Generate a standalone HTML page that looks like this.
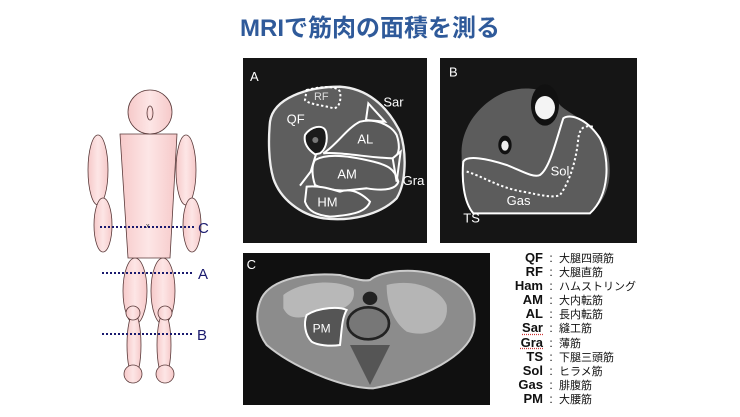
<!DOCTYPE html>
<html><head><meta charset="utf-8"><style>
body{margin:0;width:740px;height:417px;background:#fff;overflow:hidden;position:relative;font-family:"Liberation Sans","Noto Sans CJK JP",sans-serif}
.t{position:absolute;left:0;width:740px;top:8px;text-align:center;font-size:24px;font-weight:bold;color:#2f5a9a}
.lg{position:absolute;left:490px;top:251px;line-height:14.1px;color:#111}
.lg div{white-space:nowrap;height:14.1px}
.lg b{display:inline-block;width:53px;text-align:right;font-size:13px}
.lg i{font-style:normal;display:inline-block;width:16px;text-align:center;font-size:12px}
.lg span.j{font-size:11px;font-family:"Noto Sans CJK JP",sans-serif}
.u{text-decoration:underline dotted #c33}
</style></head><body>
<div class="t">MRIで筋肉の面積を測る</div>
<svg width="740" height="417" style="position:absolute;left:0;top:0">
<defs><linearGradient id="sk" x1="0" x2="1"><stop offset="0" stop-color="#f6c9c9"/><stop offset=".5" stop-color="#fde6e6"/><stop offset="1" stop-color="#f6c9c9"/></linearGradient></defs>
<g fill="url(#sk)" stroke="#5a3a3a" stroke-width="0.8">
<ellipse cx="98" cy="170" rx="10" ry="35"/><ellipse cx="103" cy="225" rx="9" ry="27"/>
<ellipse cx="186" cy="170" rx="10" ry="35"/><ellipse cx="192" cy="225" rx="9" ry="27"/>
<ellipse cx="135" cy="291" rx="12" ry="33"/><ellipse cx="163" cy="291" rx="12" ry="33"/>
<ellipse cx="134" cy="345" rx="7" ry="32"/><ellipse cx="164" cy="345" rx="7" ry="32"/>
<circle cx="133" cy="313" r="7"/><circle cx="165" cy="313" r="7"/>
<circle cx="133" cy="374" r="9"/><circle cx="165" cy="374" r="9"/>
<path d="M120 134 L177 134 L170 258 L128 258 Z"/>
<circle cx="150" cy="112" r="22"/><ellipse cx="150" cy="113" rx="3" ry="7"/>
</g>
<text x="146" y="228" font-size="7" fill="#444">x</text>
<g stroke="#1a1a6e" stroke-width="2" stroke-dasharray="2 2"><line x1="100" y1="227" x2="194" y2="227"/><line x1="102" y1="273" x2="194" y2="273"/><line x1="102" y1="334" x2="194" y2="334"/></g>
<g fill="#1a1a6e" font-size="15"><text x="198" y="233">C</text><text x="198" y="279">A</text><text x="197" y="340">B</text></g>

<rect x="243" y="58" width="184" height="185" fill="#151515"/>
<rect x="440" y="58" width="197" height="185" fill="#151515"/>
<rect x="243" y="253" width="247" height="152" fill="#101010"/>
<g transform="translate(240,55) scale(0.3333)" font-family="Liberation Sans, sans-serif">
<path d="M90 200C100 130 200 95 300 95C380 100 440 150 480 230C500 290 500 380 470 430C420 480 330 500 250 490C180 480 120 430 100 370C85 320 85 250 90 200Z" fill="#5e5e5e" stroke="#eee" stroke-width="7"/>
<g fill="#5a5a5a" stroke="#fff" stroke-width="6">
<path d="M195 240C210 215 250 205 258 230C265 260 255 285 240 295L225 298C205 285 190 265 195 240Z" fill="#1a1a1a"/>
<path d="M250 295C290 270 320 220 360 200C400 190 450 205 470 240C480 270 480 300 460 310C400 310 300 290 250 295Z"/>
<path d="M225 315C260 295 320 300 400 320C440 330 465 340 475 380C470 400 440 410 380 400L330 405C290 410 245 400 225 390C215 360 215 330 225 315Z"/>
<path d="M200 395C240 390 280 405 300 410C330 400 360 410 390 440C380 470 340 480 270 485C230 480 205 470 195 440Z"/>
<path d="M385 145L378 195L435 200Z"/><path d="M458 310L482 290L470 380Z"/>
<path d="M228 298L212 350L180 392" fill="none"/>
<path d="M200 105C240 95 290 90 300 110C305 140 295 160 280 160C250 150 210 150 195 135Z" fill="none" stroke-dasharray="7 7"/>
</g>
<circle cx="226" cy="255" r="9" fill="#777"/>
<g fill="#fff" font-size="39"><text x="30" y="78">A</text><text x="140" y="205">QF</text><text x="222" y="135" font-size="33" fill="#ddd">RF</text><text x="430" y="155">Sar</text><text x="352" y="265">AL</text><text x="292" y="370">AM</text><text x="488" y="390">Gra</text><text x="232" y="455">HM</text></g>

<path d="M665 300C660 220 720 140 800 110C860 90 930 100 960 150C990 180 1060 200 1100 280C1120 350 1110 430 1050 475L700 475C670 440 665 380 665 300Z" fill="#5c5c5c"/>
<ellipse cx="915" cy="150" rx="42" ry="62" fill="#111"/><ellipse cx="915" cy="158" rx="30" ry="35" fill="#f4f4f4"/>
<ellipse cx="795" cy="270" rx="20" ry="28" fill="#111"/><ellipse cx="795" cy="272" rx="11" ry="15" fill="#eee"/>
<path d="M670 320C680 300 740 310 800 330C840 345 880 370 900 360C930 340 950 250 970 190C990 175 1040 190 1080 250C1110 310 1110 420 1050 475L700 475C670 440 665 370 670 320Z" fill="none" stroke="#fff" stroke-width="6"/>
<path d="M680 350C720 360 780 400 850 410C900 420 940 430 960 420C990 380 1010 310 1015 250C1020 220 1030 210 1060 215" fill="none" stroke="#fff" stroke-width="6" stroke-dasharray="7 7"/>
<g fill="#fff" font-size="39"><text x="627" y="65">B</text><text x="932" y="362">Sol</text><text x="800" y="450">Gas</text><text x="670" y="502">TS</text></g>
</g>
<g transform="translate(240,245) scale(0.3333)">
<path d="M60 170C80 110 180 80 300 90C340 100 370 110 390 105C420 80 520 60 620 100C690 130 715 190 700 260C680 330 560 400 400 430C300 430 150 360 80 300C50 260 45 210 60 170Z" fill="#8c8c8c" stroke="#ccc" stroke-width="6"/>
<path d="M130 150C180 110 280 100 340 130C350 170 320 200 250 200C190 220 150 230 130 190Z" fill="#b8b8b8"/>
<path d="M440 120C520 100 600 130 620 180C630 250 560 280 500 260C460 230 440 180 440 120Z" fill="#b5b5b5"/>
<ellipse cx="385" cy="235" rx="62" ry="48" fill="#777" stroke="#222" stroke-width="8"/>
<ellipse cx="390" cy="160" rx="22" ry="20" fill="#222"/>
<path d="M330 300L390 420L450 300" fill="#555"/>
<path d="M200 210C240 185 300 185 320 195C305 220 305 260 300 300C270 305 230 300 215 290C195 270 190 235 200 210Z" fill="#555" stroke="#fff" stroke-width="6"/>
<g fill="#fff" font-size="39"><text x="20" y="72">C</text><text x="218" y="262" font-size="36">PM</text></g>
</g>
</svg>
<div class="lg">
<div><b>QF</b><i>:</i><span class="j">大腿四頭筋</span></div>
<div><b>RF</b><i>:</i><span class="j">大腿直筋</span></div>
<div><b>Ham</b><i>:</i><span class="j">ハムストリング</span></div>
<div><b>AM</b><i>:</i><span class="j">大内転筋</span></div>
<div><b>AL</b><i>:</i><span class="j">長内転筋</span></div>
<div><b><span class="u">Sar</span></b><i>:</i><span class="j">縫工筋</span></div>
<div><b><span class="u">Gra</span></b><i>:</i><span class="j">薄筋</span></div>
<div><b>TS</b><i>:</i><span class="j">下腿三頭筋</span></div>
<div><b>Sol</b><i>:</i><span class="j">ヒラメ筋</span></div>
<div><b>Gas</b><i>:</i><span class="j">腓腹筋</span></div>
<div><b>PM</b><i>:</i><span class="j">大腰筋</span></div>
</div>
</body></html>
